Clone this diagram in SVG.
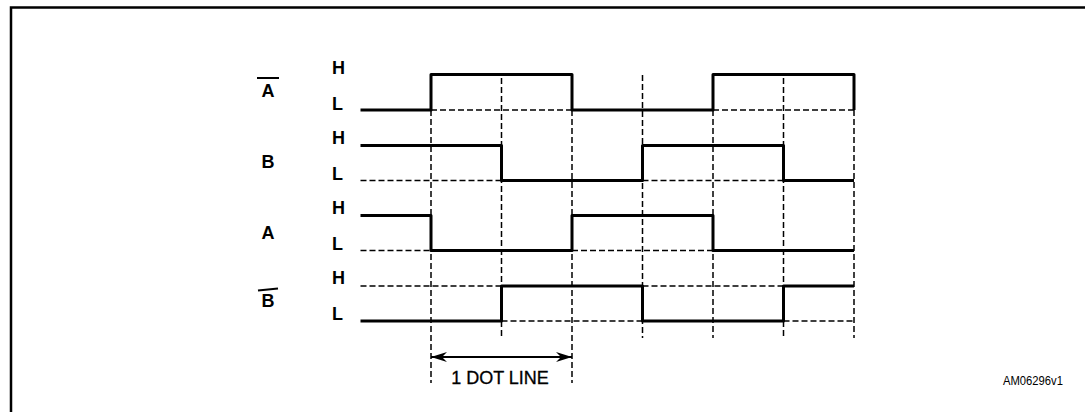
<svg xmlns="http://www.w3.org/2000/svg" width="1085" height="412" viewBox="0 0 1085 412">
<style>
.lbl{font-family:"Liberation Sans",Arial,sans-serif;font-weight:bold;font-size:18px;fill:#000}
.sig{font-family:"Liberation Sans",Arial,sans-serif;font-weight:bold;font-size:18px;fill:#000}
.txt{font-family:"Liberation Sans",Arial,sans-serif;font-size:18px;fill:#000;stroke:#000;stroke-width:0.3}
.ref{font-family:"Liberation Sans",Arial,sans-serif;font-size:12px;fill:#000}
.dash{stroke:#000;stroke-width:1.5;stroke-dasharray:6 3;fill:none}
.wave{stroke:#000;stroke-width:3;fill:none;stroke-linejoin:round}
.bar{stroke:#000;stroke-width:2}
</style>
<defs>
<marker id="ah" viewBox="0 0 16 10" refX="16" refY="5" markerWidth="16" markerHeight="10" markerUnits="userSpaceOnUse" orient="auto-start-reverse">
<path d="M0,0 L16,5 L0,10 L5,5 Z" fill="#000"/>
</marker>
</defs>
<rect width="1085" height="412" fill="#fff"/>
<rect id="frame" x="11" y="7.5" width="1100" height="420" fill="none" stroke="#000" stroke-width="2.5"/>

<g id="connectors">
<g id="grid-verticals">
<line class="dash" x1="431" y1="110" x2="431" y2="383"/>
<line class="dash" x1="501.5" y1="78" x2="501.5" y2="338"/>
<line class="dash" x1="572" y1="110" x2="572" y2="383"/>
<line class="dash" x1="642.5" y1="75" x2="642.5" y2="338"/>
<line class="dash" x1="713" y1="110" x2="713" y2="338"/>
<line class="dash" x1="783.5" y1="78" x2="783.5" y2="338"/>
<line class="dash" x1="854" y1="110" x2="854" y2="338"/>
</g>
<g id="grid-horizontals">
<line class="dash" x1="431" y1="110" x2="572" y2="110"/>
<line class="dash" x1="713" y1="110" x2="854" y2="110"/>
<line class="dash" x1="360.5" y1="180.5" x2="501.5" y2="180.5"/>
<line class="dash" x1="642.5" y1="180.5" x2="783.5" y2="180.5"/>
<line class="dash" x1="360.5" y1="250.5" x2="431" y2="250.5"/>
<line class="dash" x1="572" y1="250.5" x2="713" y2="250.5"/>
<line class="dash" x1="360.5" y1="286" x2="501.5" y2="286"/>
<line class="dash" x1="642.5" y1="286" x2="783.5" y2="286"/>
<line class="dash" x1="501.5" y1="321" x2="642.5" y2="321"/>
<line class="dash" x1="783.5" y1="321" x2="854" y2="321"/>
</g>
<line id="dot-line-dim" x1="431" y1="357" x2="572" y2="357" stroke="#000" stroke-width="2" marker-start="url(#ah)" marker-end="url(#ah)"/>
</g>

<g id="signal-Abar">
<text class="sig" x="268" y="96.5" text-anchor="middle">A</text>
<line class="bar" x1="257" y1="78" x2="279" y2="78"/>
<text class="lbl" x="332" y="73.5">H</text>
<text class="lbl" x="332" y="109.5">L</text>
<path class="wave" d="M360.5 110 H431 V74.5 H572 V110 H713 V74.5 H854 V110"/>
</g>

<g id="signal-B">
<text class="sig" x="268" y="167.5" text-anchor="middle">B</text>
<text class="lbl" x="332" y="144">H</text>
<text class="lbl" x="332" y="179.5">L</text>
<path class="wave" d="M360.5 145.5 H501.5 V180.5 H642.5 V145.5 H783.5 V180.5 H854"/>
</g>

<g id="signal-A">
<text class="sig" x="268" y="238.5" text-anchor="middle">A</text>
<text class="lbl" x="332" y="214">H</text>
<text class="lbl" x="332" y="250">L</text>
<path class="wave" d="M360.5 215.5 H431 V250.5 H572 V215.5 H713 V250.5 H854"/>
</g>

<g id="signal-Bbar">
<text class="sig" x="268" y="307" text-anchor="middle">B</text>
<line class="bar" x1="258" y1="290.5" x2="278" y2="288.5"/>
<text class="lbl" x="332" y="284">H</text>
<text class="lbl" x="332" y="320">L</text>
<path class="wave" d="M360.5 321 H501.5 V286 H642.5 V321 H783.5 V286 H854"/>
</g>

<g id="dim-label">
<text class="txt" x="500" y="384" text-anchor="middle">1 DOT LINE</text>
</g>
<g id="ref-id">
<text class="ref" x="1003" y="385" textLength="60" lengthAdjust="spacingAndGlyphs">AM06296v1</text>
</g>
</svg>
